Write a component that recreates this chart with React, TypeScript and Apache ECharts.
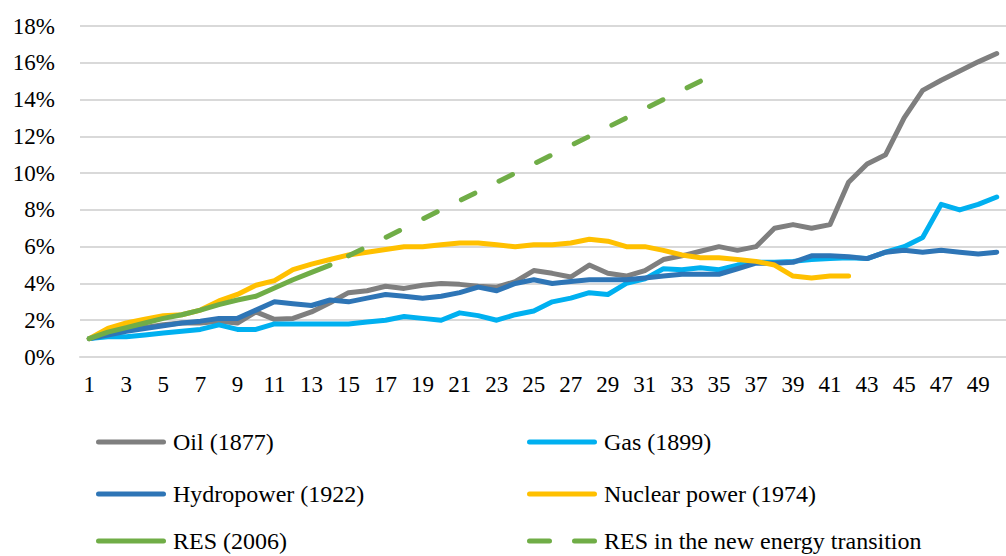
import React, { useEffect, useRef } from "react";
import * as echarts from "echarts";

const years: string[] = Array.from({ length: 50 }, (_, i) => String(i + 1));

const oil = [1.0, 1.25, 1.45, 1.6, 1.75, 1.85, 1.85, 1.95, 1.85, 2.45, 2.05, 2.1, 2.45, 2.95, 3.5, 3.6, 3.85, 3.73, 3.9, 4.0, 3.95, 3.85, 3.8, 4.1, 4.7, 4.55, 4.35, 5.0, 4.55, 4.4, 4.7, 5.3, 5.5, 5.75, 6.0, 5.8, 6.0, 7.0, 7.2, 7.0, 7.2, 9.5, 10.5, 11.0, 13.0, 14.5, 15.05, 15.55, 16.05, 16.5];
const gas = [1.0, 1.1, 1.1, 1.2, 1.3, 1.4, 1.5, 1.75, 1.5, 1.5, 1.8, 1.8, 1.8, 1.8, 1.8, 1.9, 2.0, 2.2, 2.1, 2.0, 2.4, 2.25, 2.0, 2.3, 2.5, 3.0, 3.2, 3.5, 3.4, 4.0, 4.25, 4.8, 4.75, 4.85, 4.75, 5.0, 5.15, 5.15, 5.2, 5.3, 5.35, 5.4, 5.35, 5.7, 6.0, 6.5, 8.3, 8.0, 8.3, 8.7];
const hydro = [1.0, 1.2, 1.4, 1.55, 1.7, 1.85, 1.95, 2.1, 2.1, 2.55, 3.0, 2.9, 2.8, 3.1, 3.0, 3.2, 3.4, 3.3, 3.2, 3.3, 3.5, 3.8, 3.6, 4.0, 4.2, 4.0, 4.1, 4.2, 4.2, 4.2, 4.3, 4.4, 4.5, 4.5, 4.5, 4.8, 5.1, 5.1, 5.15, 5.5, 5.5, 5.45, 5.35, 5.7, 5.8, 5.7, 5.8, 5.7, 5.6, 5.7];
const nuclear = [1.0, 1.55, 1.85, 2.05, 2.25, 2.3, 2.55, 3.05, 3.4, 3.9, 4.15, 4.75, 5.05, 5.3, 5.55, 5.7, 5.85, 6.0, 6.0, 6.1, 6.2, 6.2, 6.1, 6.0, 6.1, 6.1, 6.2, 6.4, 6.3, 6.0, 6.0, 5.8, 5.55, 5.4, 5.4, 5.3, 5.2, 5.0, 4.4, 4.3, 4.4, 4.4];
const res = [1.0, 1.35, 1.6, 1.85, 2.1, 2.3, 2.55, 2.85, 3.1, 3.3, 3.75, 4.2, 4.6, 5.0];
const resNew = [null, null, null, null, null, null, null, null, null, null, null, null, null, null, 5.5, 6.0, 6.5, 7.0, 7.5, 8.0, 8.5, 9.0, 9.5, 10.0, 10.5, 11.0, 11.5, 12.0, 12.5, 13.0, 13.5, 14.0, 14.5, 15.0];

const names = ["Oil (1877)", "Gas (1899)", "Hydropower (1922)", "Nuclear power (1974)", "RES (2006)", "RES in the new energy transition"];
const colors = ["#7f7f7f", "#00b0f0", "#2e75b6", "#ffc000", "#70ad47", "#70ad47"];

const FONT = "Liberation Serif";
const SOLID_ICON = "path://M2.5,0H67.5A2.5,2.5,0,0,1,67.5,5H2.5A2.5,2.5,0,0,1,2.5,0Z";
const DASH_ICON = "path://M2.5,0H22.5A2.5,2.5,0,0,1,22.5,5H2.5A2.5,2.5,0,0,1,2.5,0ZM47.5,0H67.5A2.5,2.5,0,0,1,67.5,5H47.5A2.5,2.5,0,0,1,47.5,0Z";

export default function App() {
  const ref = useRef<HTMLDivElement>(null);
  useEffect(() => {
    if (!ref.current) return;
    const chart = echarts.init(ref.current, null, { renderer: "svg" });
    const datasets = [oil, gas, hydro, nuclear, res, resNew];
    const series = datasets.map((d, i) => ({
      name: names[i],
      type: "line",
      data: d,
      symbol: "none",
      showSymbol: false,
      connectNulls: false,
      lineStyle: {
        color: colors[i],
        width: 5,
        type: i === 5 ? [15, 27] : "solid",
        cap: "round",
        join: "round",
      },
      itemStyle: { color: colors[i] },
      z: i === 5 ? 3 : 2,
    }));
    // legend slot positions: [left, row center y]
    const slots: [number, number][] = [
      [96, 442], [527, 442],
      [96, 494], [527, 494],
      [96, 541], [527, 541],
    ];
    const legends = names.map((n, i) => ({
      orient: "horizontal",
      left: slots[i][0],
      top: slots[i][1] - 12,
      padding: 0,
      itemWidth: 70,
      itemHeight: 5,
      textStyle: { fontFamily: FONT, fontSize: 24, color: "#000", padding: [0, 0, 0, 2] },
      data: [{ name: n, icon: i === 5 ? DASH_ICON : SOLID_ICON, itemStyle: { color: colors[i] } }],
    }));
    chart.setOption({
      animation: false,
      backgroundColor: "#fff",
      grid: { left: 80, top: 26, width: 935, height: 331, containLabel: false },
      xAxis: {
        type: "category",
        data: years,
        boundaryGap: true,
        axisLine: { show: true, lineStyle: { color: "#d9d9d9", width: 2 } },
        axisTick: { show: false },
        axisLabel: { interval: 1, fontFamily: FONT, fontSize: 23, color: "#000", margin: 16 },
        splitLine: { show: false },
      },
      yAxis: {
        type: "value",
        min: 0,
        max: 18,
        interval: 2,
        axisLine: { show: false },
        axisTick: { show: false },
        axisLabel: { formatter: "{value}%", fontFamily: FONT, fontSize: 23, color: "#000", margin: 25 },
        splitLine: { lineStyle: { color: "#d9d9d9", width: 2 } },
      },
      legend: legends,
      series,
    });
    return () => chart.dispose();
  }, []);
  return (
    <div
      ref={ref}
      style={{ position: "absolute", left: 0, top: 0, width: 1006, height: 556, overflow: "hidden" }}
    />
  );
}
